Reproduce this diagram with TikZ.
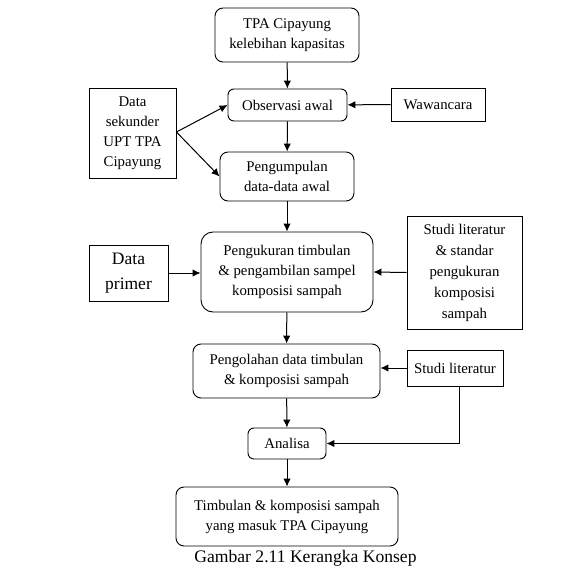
\documentclass[tikz,border=0pt]{standalone}
\usepackage{fontspec}
\setmainfont{Liberation Serif}
\usetikzlibrary{arrows.meta}
\begin{document}
\begin{tikzpicture}[x=1pt,y=-1pt,
  box/.style={draw,line width=0.9pt,inner sep=0pt,align=center,font=\fontsize{14.8}{20}\selectfont},
  rbox/.style={box,rounded corners=8pt},
  arr/.style={line width=1pt,-{Latex[length=8pt,width=7.5pt]}}]
\useasboundingbox (0,0) rectangle (573,583);
\node[rbox,minimum width=144pt,minimum height=54pt] (tpa) at (287,35) {TPA Cipayung\\kelebihan kapasitas};
\node[rbox,minimum width=119pt,minimum height=32pt,rounded corners=6pt] (obs) at (287.5,105) {Observasi awal};
\node[box,minimum width=94pt,minimum height=33pt] (waw) at (438,104.5) {Wawancara};
\node[box,minimum width=87pt,minimum height=90pt] (ds) at (132.5,133) {Data\\sekunder\\UPT TPA\\Cipayung};
\node[rbox,minimum width=134pt,minimum height=49pt] (peng) at (287,176.5) {Pengumpulan\\data-data awal};
\node[rbox,minimum width=172pt,minimum height=80pt,rounded corners=12pt] (ukur) at (287,272) {Pengukuran timbulan\\\& pengambilan sampel\\komposisi sampah};
\node[box,minimum width=79pt,minimum height=56pt,font=\fontsize{17.5}{25}\selectfont] (dp) at (128.5,273) {Data\\primer};
\node[box,minimum width=115pt,minimum height=113pt,font=\fontsize{14.8}{21}\selectfont] (sl) at (464.5,272.5) {Studi literatur\\\& standar\\pengukuran\\komposisi\\sampah};
\node[rbox,minimum width=187pt,minimum height=54pt] (olah) at (286.5,371) {Pengolahan data timbulan\\\& komposisi sampah};
\node[box,minimum width=96pt,minimum height=36pt] (sl2) at (455,368) {Studi literatur};
\node[rbox,minimum width=78pt,minimum height=31pt,rounded corners=6pt] (ana) at (287,443.5) {Analisa};
\node[rbox,minimum width=222pt,minimum height=59pt] (tim) at (287,516.5) {Timbulan \& komposisi sampah\\yang masuk TPA Cipayung};
\node[font=\fontsize{17.6}{20}\selectfont] (cap) at (305.5,558.5) {Gambar 2.11 Kerangka Konsep};
\draw[arr] (tpa) -- (obs);
\draw[arr] (obs) -- (peng);
\draw[arr] (waw) -- (obs);
\coordinate (dsp) at ([yshift=1pt]ds.east);
\draw[arr] (dsp) -- (obs.west);
\draw[arr] (dsp) -- (peng.west);
\draw[arr] (peng) -- (ukur);
\draw[arr] (dp) -- (ukur.west |- dp);
\draw[arr] (sl.west) -- (ukur.east);
\draw[arr] (ukur) -- (olah);
\draw[arr] (sl2.west) -- (olah.east |- sl2.west);
\draw[arr] (olah) -- (ana);
\draw[arr] (ana) -- (tim);
\coordinate (slb) at ([xshift=4pt]sl2.south);
\draw[arr] (slb) |- (ana.east);
\end{tikzpicture}
\end{document}
